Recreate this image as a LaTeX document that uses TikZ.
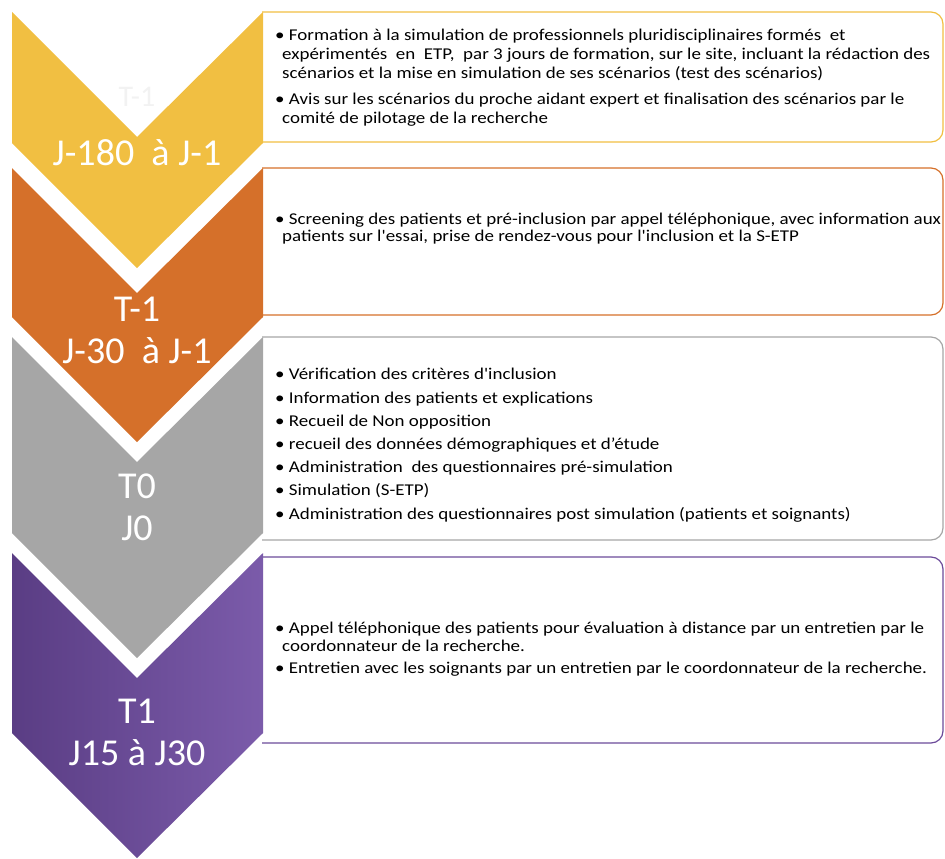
\documentclass[tikz,border=0pt]{standalone}
\usepackage{fontspec}
\setmainfont{Carlito}[Ligatures=TeXOff]
\newfontfamily\taskfont{Carlito}[FakeStretch=1.15, Ligatures=TeXOff]
\definecolor{phaseyellow}{HTML}{F1BF42}
\definecolor{phaseorange}{HTML}{D5702A}
\definecolor{phasegray}{HTML}{A6A6A6}
\definecolor{phasepurple}{HTML}{6C4B9A}
\definecolor{phasepurpleA}{HTML}{5A3D84}
\definecolor{phasepurpleB}{HTML}{7B5BAA}
\begin{document}
\begin{tikzpicture}[x=1pt, y=-1pt,
		phase/.style={text=white, font=\fontsize{38}{42}\selectfont, align=center, inner sep=0pt},
		task/.style={anchor=base west, inner sep=0pt, align=left, font=\taskfont\fontsize{16.5}{19}\selectfont},
		taskbox/.style={line width=1.2pt, rounded corners=12pt}
	]
	\useasboundingbox (0,0) rectangle (945,859);
	% boxes on the right
	\foreach \col/\ya/\yb in {phaseyellow/12/142, phaseorange/168/315, phasegray/337/540, phasepurple/557/743}
		\draw[taskbox, draw=\col] (262,\ya) -- (943,\ya) -- (943,\yb) -- (262,\yb);
	% chevrons
	\foreach \col/\ya/\yb in {phaseyellow/12/143, phaseorange/168/317, phasegray/337/533}
		\fill[\col] (12,\ya) -- (137,\ya+125) -- (263,\ya) -- (263,\yb) -- (137,\yb+125) -- (12,\yb) -- cycle;
	\shade[left color=phasepurpleA, right color=phasepurpleB]
		(12,553) -- (137,678) -- (263,553) -- (263,733) -- (137,858) -- (12,733) -- cycle;
	% phase labels
	\node[phase, text=black!5, font=\fontsize{30}{36}\selectfont] (ghost) at (137,97) {T-1};
	\node[phase] (p1) at (137,153) {J-180~~à J-1};
	\node[phase] (p2) at (137,330) {T-1\\J-30~~à J-1};
	\node[phase] (p3) at (137,507) {T0\\J0};
	\node[phase] (p4) at (137,732) {T1\\J15 à J30};
	% tasks (anchored on the baseline of their last line)
	\node[task] (t1) at (275,123) {%
		• Formation à la simulation de professionnels pluridisciplinaires formés~~et\\
		\hspace*{7pt}expérimentés~~en~~ETP,~~par 3 jours de formation, sur le site, incluant la rédaction des\\
		\hspace*{7pt}scénarios et la mise en simulation de ses scénarios (test des scénarios)\\[7pt]
		• Avis sur les scénarios du proche aidant expert et finalisation des scénarios par le\\
		\hspace*{7pt}comité de pilotage de la recherche};
	\node[task] (t2) at (275,241.5) {%
		• Screening des patients et pré-inclusion par appel téléphonique, avec information aux\\[-1.5pt]
		\hspace*{7pt}patients sur l'essai, prise de rendez-vous pour l'inclusion et la S-ETP};
	\node[task] (t3) at (275,519) {%
		• Vérification des critères d'inclusion\\[4.2pt]
		• Information des patients et explications\\[4.2pt]
		• Recueil de Non opposition\\[4.2pt]
		• recueil des données démographiques et d’étude\\[4.2pt]
		• Administration~~des questionnaires pré-simulation\\[4.2pt]
		• Simulation (S-ETP)\\[4.2pt]
		• Administration des questionnaires post simulation (patients et soignants)};
	\node[task] (t4) at (275,673) {%
		• Appel téléphonique des patients pour évaluation à distance par un entretien par le\\[-1pt]
		\hspace*{7pt}coordonnateur de la recherche.\\[3pt]
		• Entretien avec les soignants par un entretien par le coordonnateur de la recherche.};
\end{tikzpicture}
\end{document}
